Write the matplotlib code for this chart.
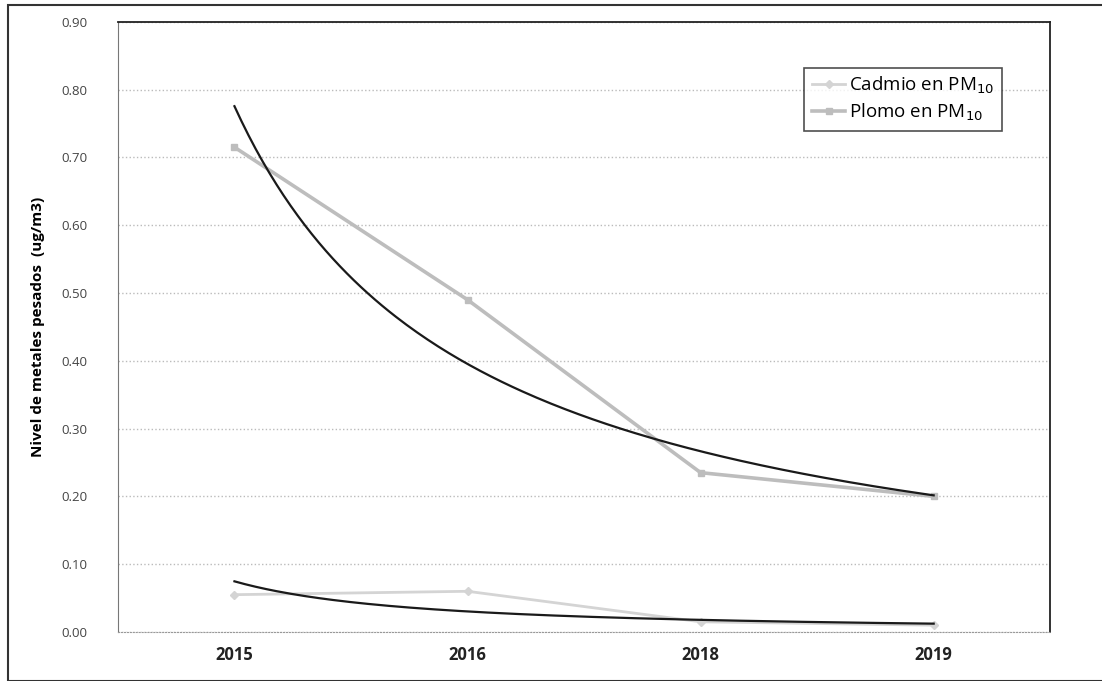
import numpy as np
import matplotlib.pyplot as plt
from matplotlib.patches import Rectangle

years = ['2015', '2016', '2018', '2019']
cadmio = [0.055, 0.060, 0.015, 0.010]
plomo = [0.715, 0.490, 0.235, 0.200]
y_ticks = [0.0, 0.1, 0.2, 0.3, 0.4, 0.5, 0.6, 0.7, 0.8, 0.9]


def power_trend(values):
    # linea de tendencia potencial, como la de Excel
    x = np.arange(1, len(values) + 1)
    b, ln_a = np.polyfit(np.log(x), np.log(values), 1)
    xs = np.linspace(1, len(values), 200)
    return xs - 1, np.exp(ln_a) * xs ** b


def main():
    plt.rcParams['font.family'] = ['Open Sans', 'DejaVu Sans']
    fig = plt.figure(figsize=(11.02, 6.81), dpi=100)
    ax = fig.add_axes([0.107, 0.072, 0.846, 0.896])

    pos = np.arange(len(years))
    ax.plot(pos, cadmio, color='#d4d4d4', lw=2, marker='D', ms=4,
            label='Cadmio en PM$_{10}$')
    ax.plot(pos, plomo, color='#bdbdbd', lw=2.6, marker='s', ms=5,
            label='Plomo en PM$_{10}$')

    for serie in (cadmio, plomo):
        xs, ys = power_trend(serie)
        ax.plot(xs, ys, color='#1a1a1a', lw=1.6)

    ax.set_xlim(-0.5, len(years) - 0.5)
    ax.set_ylim(0, 0.9)
    ax.set_xticks(pos)
    ax.set_xticklabels(years, fontsize=12, fontweight='bold', color='#222222')
    ax.set_yticks(y_ticks)
    ax.set_yticklabels(['%.2f' % v for v in y_ticks], fontsize=9.5, color='#444444')
    ax.tick_params(length=0)
    ax.tick_params(axis='y', pad=22)
    ax.tick_params(axis='x', pad=10)
    ax.set_ylabel('Nivel de metales pesados  (ug/m3)', fontsize=11,
                  fontweight='bold', labelpad=12)

    ax.grid(axis='y', color='#bbbbbb', linestyle=':', lw=1)
    for side in ('top', 'right'):
        ax.spines[side].set_color('#222222')
        ax.spines[side].set_linewidth(1.3)
    ax.spines['left'].set_color('#777777')
    ax.spines['left'].set_linestyle((0, (4, 1)))
    ax.spines['bottom'].set_color('#999999')
    ax.spines['bottom'].set_linestyle(':')

    leg = ax.legend(loc='upper right', bbox_to_anchor=(0.948, 0.925),
                    fontsize=13.5, frameon=True, fancybox=False,
                    handlelength=1.8, handletextpad=0.2, borderpad=0.4,
                    labelspacing=0.3, borderaxespad=0)
    leg.get_frame().set_edgecolor('#222222')
    leg.get_frame().set_linewidth(1.2)

    fig.patches.append(Rectangle((0.007, 0.0), 1.0, 0.992, transform=fig.transFigure,
                                 fill=False, edgecolor='#333333', lw=1.5))
    fig.savefig('out.png', dpi=100)


if __name__ == "__main__":
    main()
